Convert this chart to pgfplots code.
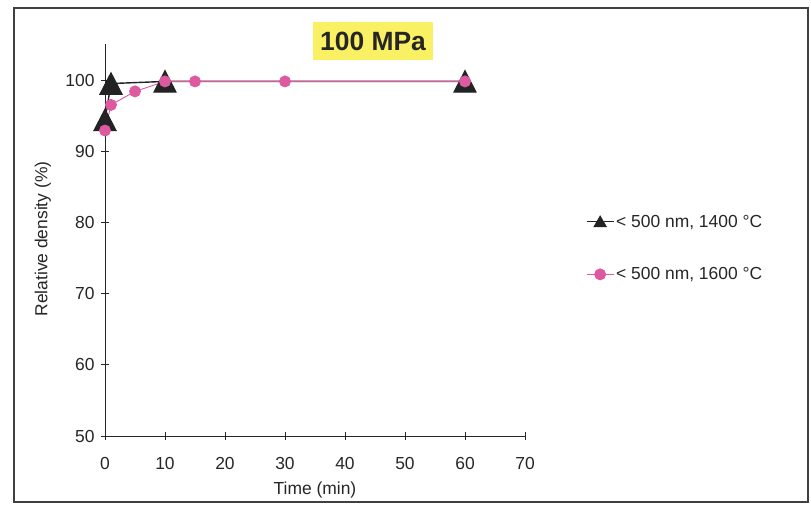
\documentclass[border=0pt]{standalone}
\usepackage{pgfplots}
\pgfplotsset{compat=1.18}
\usepackage{fontspec}
\setmainfont{Liberation Sans}
\definecolor{pinkc}{RGB}{222,90,160}
\definecolor{darkc}{RGB}{35,35,35}
\definecolor{titley}{RGB}{250,240,100}
\begin{document}
\begin{tikzpicture}
\useasboundingbox (-105bp,-69bp) rectangle (706bp,436bp);
\draw[black!75, line width=1.2bp] (-91bp,-66bp) rectangle (703bp,428bp);
\begin{axis}[
  at={(0,0)}, anchor=south west,
  width=420bp, height=391.6bp, scale only axis,
  xmin=0, xmax=70, ymin=50, ymax=105,
  axis lines=left, axis line style={-, line width=0.8bp, black!85},
  xtick={0,10,...,70}, ytick={50,60,...,100},
  tick align=center, major tick length=8bp,
  tick style={black!85, line width=0.8bp},
  ticklabel style={font=\fontsize{17.5}{20}\selectfont, text=black!85},
  xticklabel style={yshift=-14bp},
  yticklabel style={xshift=-3bp},
  label style={font=\fontsize{17.5}{20}\selectfont, text=black!85},
  /pgf/number format/assume math mode=true,
  xlabel={Time (min)}, ylabel={Relative density (\%)},
  xlabel style={at={(axis description cs:0.5,0)}, anchor=center, yshift=-54bp},
  ylabel style={at={(axis description cs:-0.148,0.503)}, anchor=center},
  clip=false,
  legend style={draw=none, fill=none, at={(1.138,0.48)}, anchor=west,
    font=\fontsize{17.5}{20}\selectfont, text=black!85, row sep=35bp},
  legend cell align=left,
  legend image code/.code={\draw[mark repeat=2,mark phase=2,#1] plot coordinates {(0bp,0bp) (13.5bp,0bp) (27bp,0bp)};},
]
\addplot[darkc, line width=1.4bp, mark=triangle*, mark size=12.5bp, mark options={fill=darkc, draw=darkc, yscale=1.12, yshift=-3.2bp}, forget plot]
  coordinates {(0,94.4) (1,99.5) (10,99.8) (60,99.8)};
\addplot[pinkc, line width=0.9bp, mark=*, mark size=5.5bp, mark options={fill=pinkc, draw=pinkc}, forget plot]
  coordinates {(0,92.9) (1,96.5) (5,98.4) (10,99.8) (15,99.8) (30,99.8) (60,99.8)};
\addlegendimage{darkc, line width=1bp, mark=triangle*, mark size=7bp, mark options={fill=darkc, yshift=-1.5bp}}
\addlegendentry{< 500 nm, 1400 °C}
\addlegendimage{pinkc, line width=0.9bp, mark=*, mark size=5.5bp, mark options={fill=pinkc}}
\addlegendentry{< 500 nm, 1600 °C}
\end{axis}
\node[fill=titley, text=black!85, font=\bfseries\fontsize{26.5}{30}\selectfont, inner xsep=7bp, minimum height=38bp] at (268bp,395bp) {100 MPa};
\end{tikzpicture}
\end{document}
